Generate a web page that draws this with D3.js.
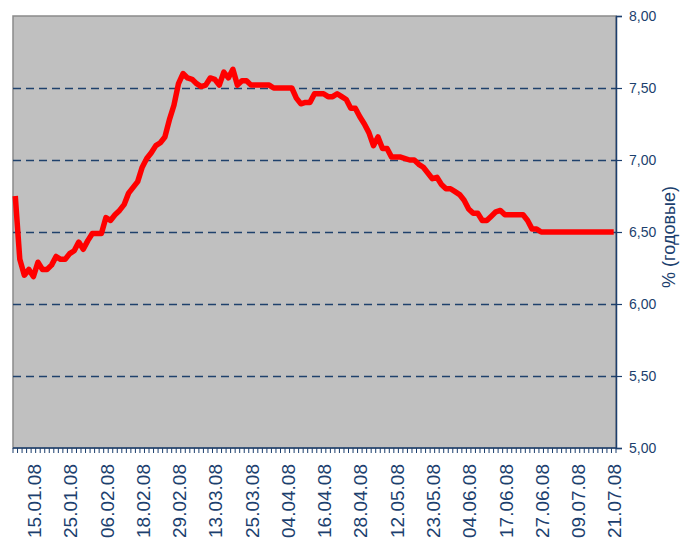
<!DOCTYPE html>
<meta charset="utf-8">
<style>
body { margin: 0; background: #fff; font-family: Arial, "Liberation Sans", sans-serif; }
.axis text { fill: #1c3f6e; }
</style>
<body>
<script src="https://cdn.jsdelivr.net/npm/d3@7"></script>
<script>

// trading days (categories)
var dates = [
  "09.01.08","10.01.08","11.01.08","14.01.08","15.01.08","16.01.08","17.01.08","18.01.08","21.01.08","22.01.08",
  "23.01.08","24.01.08","25.01.08","28.01.08","29.01.08","30.01.08","31.01.08","01.02.08","04.02.08","05.02.08",
  "06.02.08","07.02.08","08.02.08","11.02.08","12.02.08","13.02.08","14.02.08","15.02.08","18.02.08","19.02.08",
  "20.02.08","21.02.08","22.02.08","26.02.08","27.02.08","28.02.08","29.02.08","03.03.08","04.03.08","05.03.08",
  "06.03.08","07.03.08","11.03.08","12.03.08","13.03.08","14.03.08","17.03.08","18.03.08","19.03.08","20.03.08",
  "21.03.08","24.03.08","25.03.08","26.03.08","27.03.08","28.03.08","31.03.08","01.04.08","02.04.08","03.04.08",
  "04.04.08","07.04.08","08.04.08","09.04.08","10.04.08","11.04.08","14.04.08","15.04.08","16.04.08","17.04.08",
  "18.04.08","21.04.08","22.04.08","23.04.08","24.04.08","25.04.08","28.04.08","29.04.08","30.04.08","04.05.08",
  "05.05.08","06.05.08","07.05.08","08.05.08","12.05.08","13.05.08","14.05.08","15.05.08","16.05.08","20.05.08",
  "21.05.08","22.05.08","23.05.08","26.05.08","27.05.08","28.05.08","29.05.08","30.05.08","02.06.08","03.06.08",
  "04.06.08","05.06.08","06.06.08","07.06.08","09.06.08","10.06.08","11.06.08","16.06.08","17.06.08","18.06.08",
  "19.06.08","20.06.08","23.06.08","24.06.08","25.06.08","26.06.08","27.06.08","30.06.08","01.07.08","02.07.08",
  "03.07.08","04.07.08","07.07.08","08.07.08","09.07.08","10.07.08","11.07.08","14.07.08","15.07.08","16.07.08",
  "17.07.08","18.07.08","21.07.08"
];

// rate, % per year
var rates = [
  6.75, 6.31, 6.20, 6.24, 6.19, 6.29, 6.24, 6.24, 6.27, 6.33,
  6.31, 6.31, 6.35, 6.37, 6.43, 6.38, 6.44, 6.49, 6.49, 6.49,
  6.60, 6.58, 6.62, 6.65, 6.69, 6.77, 6.81, 6.85, 6.95, 7.01,
  7.05, 7.10, 7.12, 7.16, 7.28, 7.38, 7.53, 7.60, 7.57, 7.56,
  7.53, 7.51, 7.52, 7.57, 7.56, 7.52, 7.61, 7.57, 7.63, 7.52,
  7.55, 7.55, 7.52, 7.52, 7.52, 7.52, 7.52, 7.50, 7.50, 7.50,
  7.50, 7.50, 7.43, 7.39, 7.40, 7.40, 7.46, 7.46, 7.46, 7.44,
  7.44, 7.46, 7.44, 7.42, 7.36, 7.36, 7.30, 7.25, 7.19, 7.10,
  7.16, 7.08, 7.08, 7.02, 7.02, 7.02, 7.01, 7.00, 7.00, 6.97,
  6.95, 6.91, 6.87, 6.88, 6.83, 6.80, 6.80, 6.78, 6.76, 6.72,
  6.66, 6.63, 6.63, 6.58, 6.58, 6.61, 6.64, 6.65, 6.62, 6.62,
  6.62, 6.62, 6.62, 6.58, 6.52, 6.52, 6.50, 6.50, 6.50, 6.50,
  6.50, 6.50, 6.50, 6.50, 6.50, 6.50, 6.50, 6.50, 6.50, 6.50,
  6.50, 6.50, 6.50
];

var labelDates = ["15.01.08","25.01.08","06.02.08","18.02.08","29.02.08","13.03.08","25.03.08","04.04.08",
  "16.04.08","28.04.08","12.05.08","23.05.08","04.06.08","17.06.08","27.06.08","09.07.08","21.07.08"];
var yTicks = [5.0, 5.5, 6.0, 6.5, 7.0, 7.5, 8.0];

var W = 692, H = 541;
var plotL = 13, plotR = 616, plotT = 16, plotB = 448;
var navy = "#1c3f6e";

var svg = d3.select("body").append("svg")
    .attr("width", W)
    .attr("height", H);

var x = d3.scaleBand().domain(dates).range([plotL, plotR]).padding(0);
var y = d3.scaleLinear().domain([5, 8]).range([plotB, plotT]);

// plot area
svg.append("rect")
    .attr("x", plotL).attr("y", plotT)
    .attr("width", plotR - plotL).attr("height", plotB - plotT)
    .attr("fill", "#c0c0c0")
    .attr("stroke", "#8a8a8a")
    .attr("stroke-width", 1.5);

// dashed grid
svg.append("g").selectAll("line")
    .data(yTicks.filter(function(d) { return d > 5 && d < 8; }))
    .enter().append("line")
      .attr("x1", plotL).attr("x2", plotR)
      .attr("y1", function(d) { return Math.round(y(d)) + 0.5; })
      .attr("y2", function(d) { return Math.round(y(d)) + 0.5; })
      .attr("stroke", "#1f416c")
      .attr("stroke-width", 1.3)
      .attr("stroke-dasharray", "8,5");

// line
var line = d3.line()
    .x(function(d, i) { return x(dates[i]) + x.bandwidth() / 2; })
    .y(function(d) { return y(d); });

svg.append("path")
    .datum(rates)
    .attr("d", line)
    .attr("fill", "none")
    .attr("stroke", "#ff0000")
    .attr("stroke-width", 5.5)
    .attr("stroke-linejoin", "round");

// right axis
var yAxis = svg.append("g")
    .attr("class", "axis")
    .attr("transform", "translate(" + plotR + ",0)")
    .call(d3.axisRight(y).tickValues(yTicks).tickSize(6).tickPadding(7)
      .tickFormat(function(d) { return d3.format(".2f")(d).replace(".", ","); }));
yAxis.select(".domain").attr("stroke", navy).attr("stroke-width", 1.5);
yAxis.selectAll(".tick line").attr("stroke", navy).attr("stroke-width", 1.2);
yAxis.selectAll("text")
    .style("font-size", "14px")
    .style("font-family", "Arial, 'Liberation Sans', sans-serif");

// bottom axis: a tick per trading day
var bx = svg.append("g")
    .attr("class", "axis")
    .attr("transform", "translate(0," + plotB + ")");
bx.append("line")
    .attr("x1", plotL).attr("x2", plotR)
    .attr("stroke", navy).attr("stroke-width", 1.5);
bx.selectAll("line.t")
    .data(dates.concat(["end"]))
    .enter().append("line")
      .attr("class", "t")
      .attr("x1", function(d, i) { return plotL + i * x.bandwidth(); })
      .attr("x2", function(d, i) { return plotL + i * x.bandwidth(); })
      .attr("y1", 0).attr("y2", 5)
      .attr("stroke", navy).attr("stroke-width", 1);

bx.selectAll("text")
    .data(labelDates)
    .enter().append("text")
      .attr("transform", function(d) {
        return "translate(" + (x(d) + x.bandwidth() / 2 + 1) + ",16) rotate(-90)";
      })
      .attr("dy", "0.35em")
      .style("text-anchor", "end")
      .style("font-size", "19px")
      .style("font-family", "Arial, 'Liberation Sans', sans-serif")
      .text(function(d) { return d; });

// axis title
svg.append("text")
    .attr("transform", "translate(669," + ((plotT + plotB) / 2 + 5) + ") rotate(-90)")
    .attr("dy", "0.35em")
    .style("text-anchor", "middle")
    .style("font-size", "18px")
    .style("fill", navy)
    .text("% (годовые)");

</script>
</body>
